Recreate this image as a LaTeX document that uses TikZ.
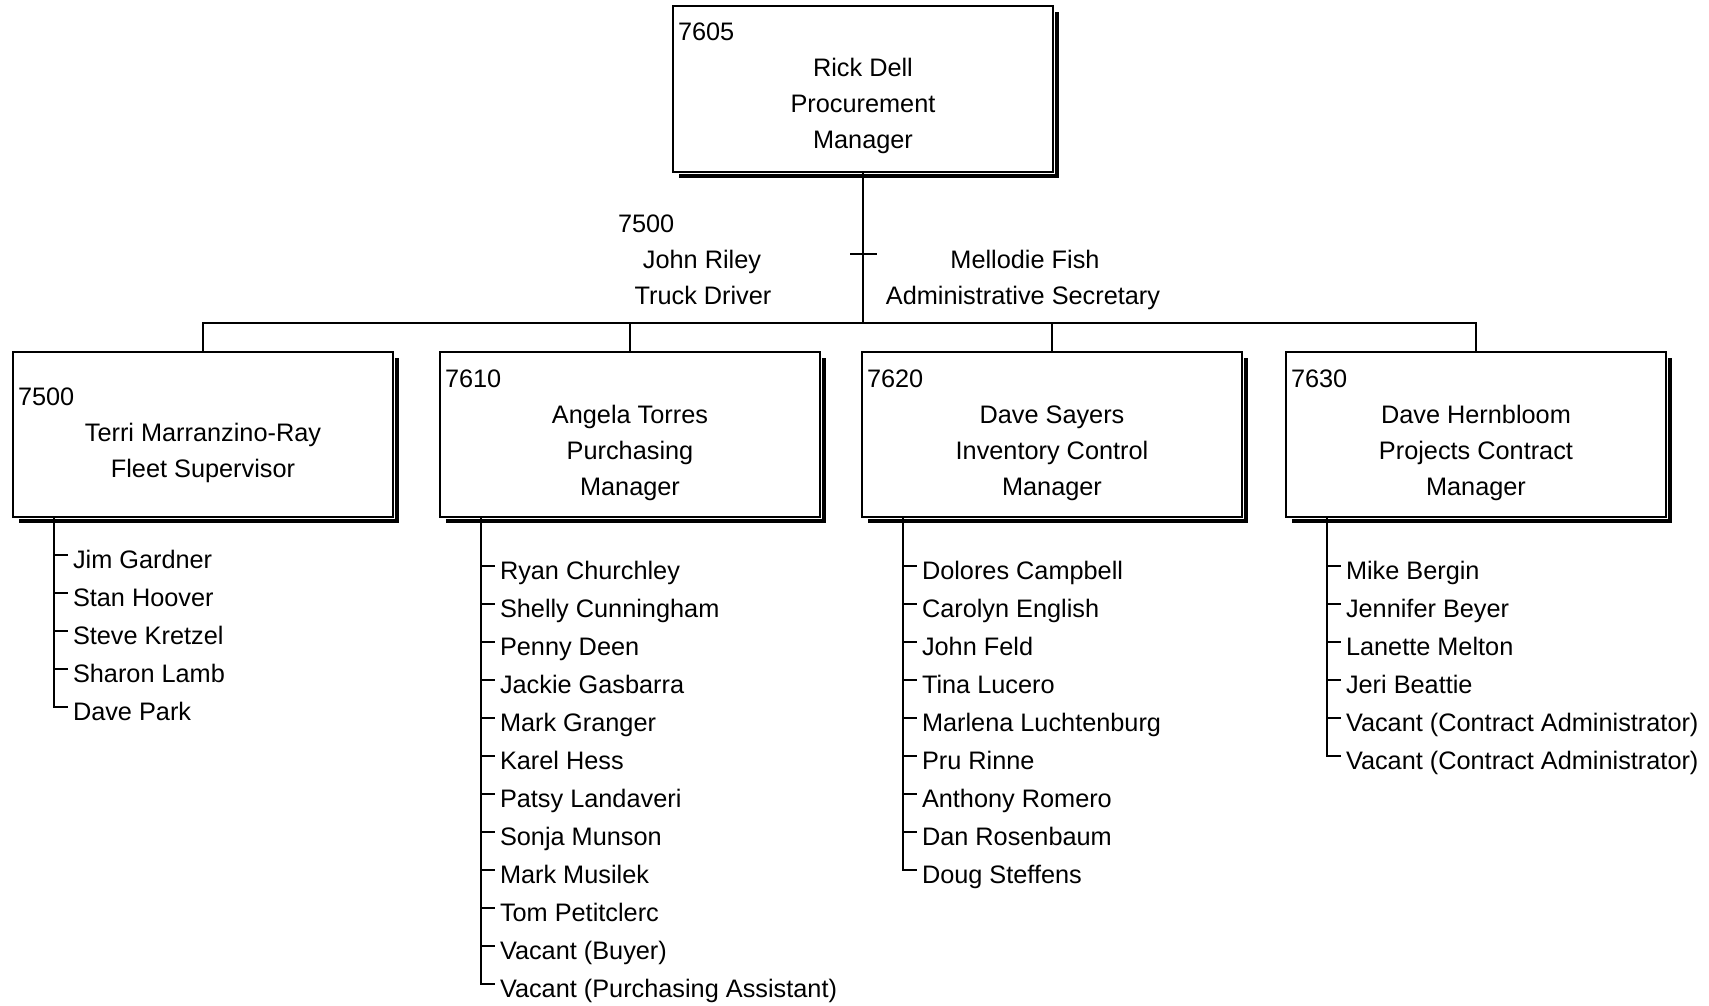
\documentclass[tikz,border=0pt]{standalone}
\usepackage{fontspec}
\setmainfont{Liberation Sans}
\usetikzlibrary{calc,shadows}
\newcommand\boxnum[3]{\node[txt,anchor=base west] (#1-n) at ($(#1.north west)+(5,#2)$) {#3};}
\newcommand\boxtext[3]{\foreach \t [count=\i from 0] in {#3} {\node[txt,anchor=base] (#1-t\i) at ($(#1.north)+(0,{#2+36*\i})$) {\t};}}
\newcommand\staff[3]{%
  \coordinate (#1-L) at ($(#1.south west)+(41,0)$);
  \foreach \t [count=\i from 0] in {#3} {
    \coordinate (#1-k\i) at ($(#1-L)+(0,{#2+38*\i-13})$);
    \node[txt,anchor=base west] (#1-s\i) at ($(#1-L)+(19,{#2+38*\i})$) {\t};
    \draw[conn] (#1-L) -- (#1-k\i) -- ++(14,0);
  }}
\begin{document}
\begin{tikzpicture}[x=1pt,y=-1pt,line width=2pt,
  txt/.style={inner sep=0pt,outer sep=0pt,font=\fontsize{25.3}{30}\selectfont},
  orgbox/.style={general shadow={fill=black,shadow xshift=6pt,shadow yshift=-6pt},
     preaction={draw=white,line width=4pt},
     draw=black,fill=white,line width=2.2pt,inner sep=0pt,outer sep=0pt,
     minimum width=380pt,minimum height=165pt,anchor=north west},
  conn/.style={draw=black,line width=2.2pt}]
\useasboundingbox (0,0) rectangle (1709,1005);
\fill[white] (0,0) rectangle (1709,1005);

\node[orgbox,minimum height=166pt] (top) at (673,6) {};
\node[orgbox] (b1) at (13,352) {};
\node[orgbox] (b2) at (440,352) {};
\node[orgbox] (b3) at (862,352) {};
\node[orgbox] (b4) at (1286,352) {};

\boxnum{top}{34}{7605}
\boxtext{top}{70}{Rick Dell,Procurement,Manager}
\boxnum{b1}{53}{7500}
\boxtext{b1}{89}{Terri Marranzino-Ray,Fleet Supervisor}
\boxnum{b2}{35}{7610}
\boxtext{b2}{71}{Angela Torres,Purchasing,Manager}
\boxnum{b3}{35}{7620}
\boxtext{b3}{71}{Dave Sayers,Inventory Control,Manager}
\boxnum{b4}{35}{7630}
\boxtext{b4}{71}{Dave Hernbloom,Projects Contract,Manager}

\coordinate (hub) at ($(top.south)+(0,151)$);
\coordinate (tick) at ($(top.south)+(0,82)$);
\draw[conn] (top.south) -- (hub);
\draw[conn] ($(tick)+(-13,0)$) -- ($(tick)+(14,0)$);
\draw[conn] (b1.north) |- (b4.north |- hub) -- (b4.north);
\draw[conn] (b2.north) -- (b2.north |- hub);
\draw[conn] (b3.north) -- (b3.north |- hub);

\node[txt,anchor=base west] (rnum) at (618,232) {7500};
\node[txt,anchor=base] (rname) at (702,268) {John Riley};
\node[txt,anchor=base] (rtitle) at (703,304) {Truck Driver};
\node[txt,anchor=base] (fname) at (1025,268) {Mellodie Fish};
\node[txt,anchor=base] (ftitle) at (1023,304) {Administrative Secretary};

\staff{b1}{51}{Jim Gardner,Stan Hoover,Steve Kretzel,Sharon Lamb,Dave Park}
\staff{b2}{62}{Ryan Churchley,Shelly Cunningham,Penny Deen,Jackie Gasbarra,Mark Granger,Karel Hess,Patsy Landaveri,Sonja Munson,Mark Musilek,Tom Petitclerc,Vacant (Buyer),Vacant (Purchasing Assistant)}
\staff{b3}{62}{Dolores Campbell,Carolyn English,John Feld,Tina Lucero,Marlena Luchtenburg,Pru Rinne,Anthony Romero,Dan Rosenbaum,Doug Steffens}
\staff{b4}{62}{Mike Bergin,Jennifer Beyer,Lanette Melton,Jeri Beattie,Vacant (Contract Administrator),Vacant (Contract Administrator)}
\end{tikzpicture}
\end{document}
